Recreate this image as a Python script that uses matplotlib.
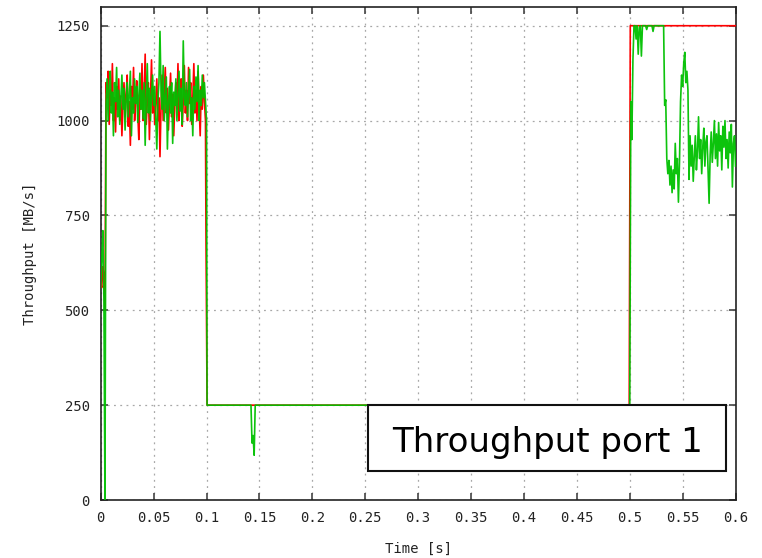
import numpy as np
import matplotlib
matplotlib.use("Agg")
import matplotlib.pyplot as plt
from matplotlib.patches import Rectangle

# ---- data -----------------------------------------------------------------
# start-up transient (s, MB/s)
red_start_t = [0.000, 0.001, 0.002, 0.003, 0.004]
red_start = [570, 560, 615, 590, 500]
green_start_t = [0.000, 0.001, 0.002, 0.003, 0.004]
green_start = [560, 640, 710, 530, 0]

# burst phase, one sample per millisecond from 5 ms to 99 ms
burst_t = np.round(np.arange(0.005, 0.0995, 0.001), 4)
red_burst = [
    1100, 1060, 1130, 990, 1080, 1040, 1150, 1000, 1060, 970,
    1090, 1030, 1110, 1000, 1065, 960, 1040, 1100, 1010, 1070,
    1120, 985, 1050, 935, 1090, 1030, 1140, 1000, 1060, 1105,
    1020, 950, 1080, 1030, 1150, 1000, 1065, 1175, 990, 1050,
    1100, 950, 1060, 1160, 1020, 1080, 990, 1045, 1110, 1000,
    1060, 905, 1040, 1120, 1000, 1070, 1140, 1020, 1085, 975,
    1055, 1125, 1010, 1070, 960, 1040, 1100, 1030, 1150, 1000,
    1060, 1110, 985, 1050, 1145, 1020, 1080, 1000, 1140, 1045,
    1100, 990, 1060, 1150, 1020, 1080, 1000, 1130, 1040, 960,
    1090, 1030, 1120, 1050, 1000,
]
green_burst = [
    1040, 1110, 1000, 1090, 1130, 1020, 1075, 960, 1100, 1050,
    1140, 1010, 1080, 990, 1060, 1120, 1030, 1085, 975, 1050,
    1100, 1010, 1070, 1130, 960, 1060, 1020, 1110, 1045, 1090,
    995, 1065, 1125, 1030, 1080, 1005, 1100, 935, 1060, 1150,
    1020, 1085, 1000, 1070, 1120, 1040, 1090, 1010, 925, 1050,
    1100, 1235, 1080, 1030, 1145, 1000, 1060, 1115, 925, 1050,
    1090, 1020, 1100, 940, 1075, 1040, 1110, 1000, 1065, 1130,
    1025, 1085, 990, 1210, 1060, 1040, 1100, 1010, 1075, 1135,
    1000, 1060, 960, 1090, 1030, 1115, 1050, 1145, 1000, 1080,
    1040, 1120, 1060, 1100, 1050,
]

# end of burst, idle plateau and the short dip on port 1
red_mid_t = [0.0995, 0.1005, 0.4995]
red_mid = [680, 250, 250]
green_mid_t = [0.1000, 0.1005, 0.142, 0.143, 0.144, 0.145, 0.146, 0.500]
green_mid = [1000, 250, 250, 150, 170, 118, 250, 250]

# second burst
red_tail_t = [0.5005, 0.600]
red_tail = [1250, 1250]
green_tail_t = [
    0.501, 0.502, 0.503, 0.504, 0.505, 0.506, 0.507, 0.508, 0.509, 0.510,
    0.511, 0.512, 0.515, 0.516, 0.517, 0.521, 0.522, 0.523, 0.532, 0.533,
    0.534, 0.535, 0.536, 0.537, 0.538, 0.539, 0.540, 0.541, 0.542, 0.543,
    0.544, 0.545, 0.546, 0.547, 0.548, 0.549, 0.550, 0.551, 0.552, 0.553,
    0.554, 0.555, 0.556, 0.557, 0.558, 0.559, 0.560, 0.561, 0.562, 0.563,
    0.564, 0.565, 0.566, 0.567, 0.568, 0.569, 0.570, 0.571, 0.572, 0.573,
    0.574, 0.575, 0.576, 0.577, 0.578, 0.579, 0.580, 0.581, 0.582, 0.583,
    0.584, 0.585, 0.586, 0.587, 0.588, 0.589, 0.590, 0.591, 0.592, 0.593,
    0.594, 0.595, 0.596, 0.597, 0.598, 0.599, 0.600,
]
green_tail = [
    1050, 950, 1160, 1250, 1250, 1215, 1250, 1175, 1245, 1250,
    1170, 1250, 1250, 1240, 1250, 1250, 1235, 1250, 1250, 1040,
    1055, 900, 860, 895, 830, 880, 810, 870, 820, 940,
    860, 900, 785, 890, 1050, 1120, 1090, 1150, 1180, 1100,
    1130, 1080, 845, 960, 880, 935, 840, 905, 960, 870,
    920, 1010, 900, 950, 860, 930, 980, 880, 945, 960,
    870, 782, 910, 970, 890, 940, 1000, 900, 965, 880,
    995, 920, 960, 870, 985, 930, 1000, 900, 950, 875,
    970, 915, 990, 825, 940, 960, 880,
]

x_ticks = [0, 0.05, 0.1, 0.15, 0.2, 0.25, 0.3, 0.35, 0.4, 0.45, 0.5, 0.55, 0.6]
x_tick_labels = ["0", "0.05", "0.1", "0.15", "0.2", "0.25", "0.3", "0.35",
                 "0.4", "0.45", "0.5", "0.55", "0.6"]
y_ticks = [0, 250, 500, 750, 1000, 1250]
y_tick_labels = ["0", "250", "500", "750", "1000", "1250"]

# ---- assemble series --------------------------------------------------------
red_t = np.concatenate([red_start_t, burst_t, red_mid_t, red_tail_t])
red_v = np.concatenate([red_start, red_burst, red_mid, red_tail])
green_t = np.concatenate([green_start_t, burst_t, green_mid_t, green_tail_t])
green_v = np.concatenate([green_start, green_burst, green_mid, green_tail])

# ---- figure -----------------------------------------------------------------
mono = "DejaVu Sans Mono"
fig = plt.figure(figsize=(7.62, 5.58), dpi=100)
ax = fig.add_axes([0.1322, 0.1039, 0.8331, 0.884])

ax.plot(red_t, red_v, color="#ff0000", lw=1.2, zorder=3)
ax.plot(green_t, green_v, color="#00c000", lw=1.2, zorder=4, alpha=0.95)

ax.set_xlim(0, 0.6)
ax.set_ylim(0, 1300)
ax.set_xticks(x_ticks)
ax.set_xticklabels(x_tick_labels)
ax.set_yticks(y_ticks)
ax.set_yticklabels(y_tick_labels)

ax.grid(True, color="#a8a8a8", lw=0.9, linestyle=(0, (1.5, 3.5)))
ax.set_axisbelow(True)

ax.tick_params(direction="in", length=5, width=1.2, color="#444444",
               top=True, right=True, labelsize=10, pad=8,
               labelcolor="#222222")
for lab in ax.get_xticklabels() + ax.get_yticklabels():
    lab.set_family(mono)
for sp in ax.spines.values():
    sp.set_linewidth(1.2)
    sp.set_color("#222222")

ax.set_xlabel("Time [s]", family=mono, fontsize=10, color="#222222",
              labelpad=12)
ax.set_ylabel("Throughput [MB/s]", family=mono, fontsize=10, color="#222222",
              labelpad=14)

# title box inside the plot
box = Rectangle((0.421, 0.0588), 0.564, 0.1338, transform=ax.transAxes,
                facecolor="white", edgecolor="#111111", lw=1.5, zorder=10)
ax.add_patch(box)
ax.text(0.703, 0.098, "Throughput port 1", transform=ax.transAxes,
        ha="center", va="baseline", fontsize=24.5, family="DejaVu Sans",
        color="black", zorder=11)

fig.savefig("out.png", dpi=100)
